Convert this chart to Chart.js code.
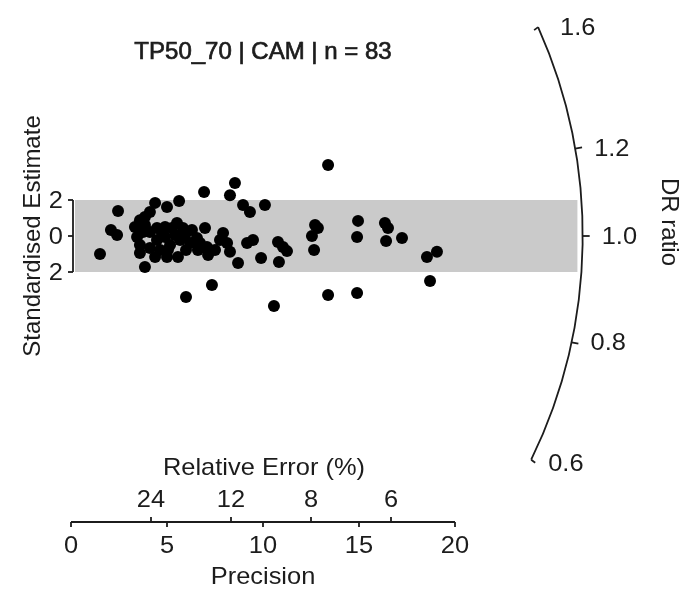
<!DOCTYPE html>
<html><head><meta charset="utf-8">
<script src="https://cdn.jsdelivr.net/npm/chart.js@4/dist/chart.umd.min.js"></script>
<style>html,body{margin:0;padding:0;background:#fff;overflow:hidden}canvas{display:block}</style>
</head><body>
<canvas id="c" width="686" height="591"></canvas>
<script>
const chartTitle = 'TP50_70 | CAM | n = 83';
// Precision (x) of each aliquot
const precision = [1.51,2.08,2.40,2.45,3.85,3.33,3.59,3.85,4.11,4.38,3.44,3.59,3.59,5.00,5.63,6.93,8.28,8.54,4.90,4.48,
  4.64,5.00,5.52,5.42,5.68,5.57,6.30,6.56,6.98,7.08,7.14,7.92,8.13,8.28,8.70,8.96,9.32,10.10,9.17,9.48,
  9.90,7.34,5.99,4.11,4.48,5.16,5.99,4.11,4.90,6.61,10.78,11.04,11.25,10.83,10.57,12.71,12.86,12.55,12.66,13.39,
  13.39,14.95,14.90,14.90,16.35,16.51,16.41,17.24,18.54,19.06,18.70,3.75,5.26,5.83,6.20,3.85,4.74,5.05,5.94,6.72,
  7.50,7.76,4.38];
// Standardised estimate (y) of each aliquot
const stdEstimate = [-1.00,0.33,0.06,1.39,-1.72,0.50,0.88,1.06,1.33,1.84,-0.06,-0.50,-0.94,1.61,1.94,2.44,2.27,2.94,0.50,-0.22,
  -0.78,-1.17,0.72,0.06,-0.22,-1.17,0.33,-0.11,0.45,-0.61,-1.06,0.17,-0.39,-0.88,-1.50,1.72,1.33,1.72,-0.39,-0.22,
  -1.22,-2.72,-3.39,0.22,0.45,-0.50,-0.78,-0.67,-0.06,-0.78,-0.33,-0.61,-0.84,-1.45,-3.89,0.61,0.45,0.00,-0.78,3.94,
  -3.28,0.84,-0.06,-3.17,0.72,0.45,-0.28,-0.11,-1.17,-0.88,-2.50,0.22,0.45,0.45,-0.39,0.61,0.22,-0.78,0.06,-0.39,
  -0.78,-0.22,-1.17];
const drTicks = [0.6, 0.8, 1.0, 1.2, 1.6];
const drTickLabels = ['0.6', '0.8', '1.0', '1.2', '1.6'];
const precisionTicks = [0, 5, 10, 15, 20];
const relErrorTicks = [24, 12, 8, 6];
const yTicks = [2, 0, -2];
const yTickLabels = ['2', '0', '2'];
const centralValue = 1.0;

const FONT = '"Liberation Sans", Arial, sans-serif';
const INK = '#1c1c1c';
const arcRadius = 26.65;   // in precision units
const arcAspect = 1.015;
const bandLimit = 2;
const HSTRETCH = 1.06;

function wideText(ctx, s, x, y) {
  ctx.save();
  ctx.translate(x, y);
  ctx.scale(HSTRETCH, 1);
  ctx.fillText(s, 0, 0);
  ctx.restore();
}

const radialPlugin = {
  id: 'radial',
  beforeDatasetsDraw(chart) {
    const {ctx, scales: {x, y}} = chart;
    const ox = x.getPixelForValue(0), oy = y.getPixelForValue(0);
    const kx = x.getPixelForValue(1) - ox;
    const R = arcRadius * kx;
    ctx.save();
    const yT = y.getPixelForValue(bandLimit), yB = y.getPixelForValue(-bandLimit);
    const bx0 = ox + 4;
    const bx1 = ox + Math.sqrt(R * R - (oy - yT) * (oy - yT)) - 4;
    ctx.fillStyle = '#cacaca';
    ctx.fillRect(bx0, yT, bx1 - bx0, yB - yT);
    ctx.restore();
  },
  afterDraw(chart) {
    const {ctx, scales: {x, y}} = chart;
    const ox = x.getPixelForValue(0), oy = y.getPixelForValue(0);
    const kx = x.getPixelForValue(1) - ox, ky = oy - y.getPixelForValue(1);
    const R = arcRadius * kx;
    const z0 = Math.log(centralValue);
    const ang = r => Math.atan((Math.log(r) - z0) * arcAspect * ky / kx);
    ctx.save();
    ctx.strokeStyle = INK; ctx.fillStyle = INK; ctx.lineWidth = 1.8;
    // arc (DR ratio axis)
    const rMax = Math.max(...drTicks), rMin = Math.min(...drTicks);
    const aTop = ang(rMax), aBot = ang(rMin);
    ctx.beginPath();
    ctx.arc(ox, oy, R, -aTop, -aBot, false);
    ctx.stroke();
    ctx.font = '24px ' + FONT;
    ctx.textAlign = 'left'; ctx.textBaseline = 'middle';
    drTicks.forEach((r, i) => {
      const a = ang(r);
      const px = ox + R * Math.cos(a), py = oy - R * Math.sin(a);
      ctx.beginPath();
      if (r === rMax) {
        ctx.moveTo(px, py); ctx.lineTo(px - 4, py + 3);
      } else if (r === rMin) {
        ctx.moveTo(px, py); ctx.lineTo(px + 4, py + 3);
      } else {
        ctx.moveTo(px, py);
        ctx.lineTo(px + 7 * Math.cos(a), py - 7 * Math.sin(a));
      }
      ctx.stroke();
      const dy = r === rMin ? 5 : 1;
      const dx = r === rMax ? 22 : (r === rMin ? 17 : 19);
      wideText(ctx, drTickLabels[i], px + dx, py + dy);
    });
    // DR ratio label
    ctx.save();
    ctx.translate(669, 222);
    ctx.rotate(Math.PI / 2);
    ctx.textAlign = 'center'; ctx.textBaseline = 'middle';
    ctx.fillText('DR ratio', 0, 0);
    ctx.restore();
    // y bracket axis
    const yT = y.getPixelForValue(2), yB = y.getPixelForValue(-2);
    const bx = ox + 2;
    ctx.beginPath();
    ctx.moveTo(bx, yT); ctx.lineTo(bx, yB); ctx.stroke();
    ctx.textAlign = 'right';
    yTicks.forEach((v, i) => {
      const py = y.getPixelForValue(v);
      ctx.beginPath(); ctx.moveTo(bx - 5, py); ctx.lineTo(bx, py); ctx.stroke();
      wideText(ctx, yTickLabels[i], bx - 10, py + 1);
    });
    // y title
    ctx.save();
    ctx.translate(33, 236);
    ctx.rotate(-Math.PI / 2);
    ctx.textAlign = 'center'; ctx.textBaseline = 'middle';
    ctx.fillText('Standardised Estimate', 0, 0);
    ctx.restore();
    // precision axis
    const axY = 522;
    const x0 = x.getPixelForValue(Math.min(...precisionTicks)), x1 = x.getPixelForValue(Math.max(...precisionTicks));
    ctx.beginPath(); ctx.moveTo(x0, axY); ctx.lineTo(x1, axY); ctx.stroke();
    ctx.textAlign = 'center';
    precisionTicks.forEach(v => {
      const px = x.getPixelForValue(v);
      ctx.beginPath(); ctx.moveTo(px, axY); ctx.lineTo(px, axY + 5); ctx.stroke();
      wideText(ctx, String(v), px, axY + 24);
    });
    relErrorTicks.forEach(v => {
      const px = x.getPixelForValue(100 / v);
      ctx.beginPath(); ctx.moveTo(px, axY); ctx.lineTo(px, axY - 5); ctx.stroke();
      wideText(ctx, String(v), px, axY - 22);
    });
    wideText(ctx, 'Precision', (x0 + x1) / 2, axY + 55);
    wideText(ctx, 'Relative Error (%)', (x0 + x1) / 2 + 1, axY - 54);
    // title
    ctx.font = '24px ' + FONT;
    ctx.lineWidth = 0.7;
    ctx.strokeText(chartTitle, 263, 52);
    ctx.fillText(chartTitle, 263, 52);
    ctx.restore();
  }
};

new Chart(document.getElementById('c'), {
  type: 'scatter',
  data: {
    datasets: [{
      data: precision.map((p, i) => ({x: p, y: stdEstimate[i]})),
      backgroundColor: '#000',
      borderColor: '#000',
      borderWidth: 0,
      pointRadius: 6,
      pointHoverRadius: 6
    }]
  },
  options: {
    responsive: false,
    animation: false,
    devicePixelRatio: 1,
    layout: {padding: {left: 71, right: 77.4, top: 20, bottom: 67}},
    plugins: {legend: {display: false}, tooltip: {enabled: false}, title: {display: false}},
    scales: {
      x: {type: 'linear', min: 0, max: 28, display: false},
      y: {type: 'linear', min: -16, max: 12, display: false}
    }
  },
  plugins: [radialPlugin]
});
</script>
</body></html>
